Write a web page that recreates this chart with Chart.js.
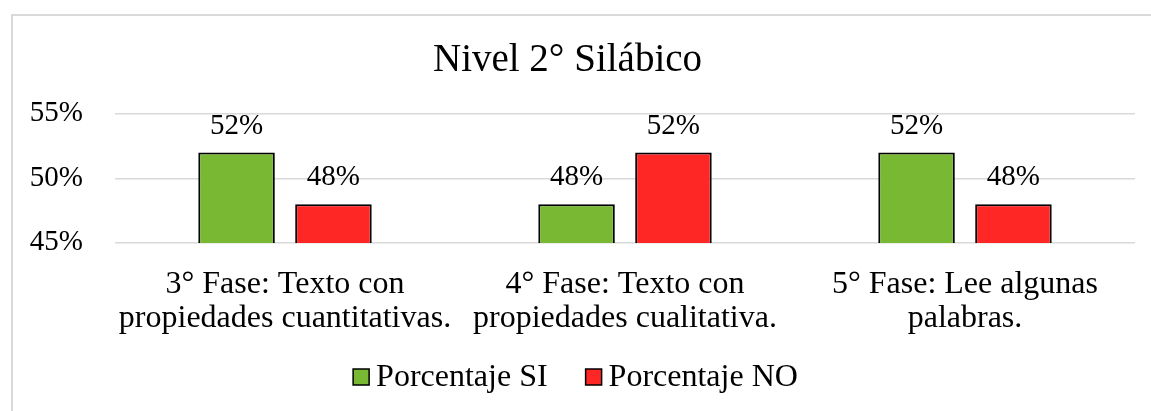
<!DOCTYPE html>
<html>
<head>
<meta charset="utf-8">
<script src="https://cdn.jsdelivr.net/npm/chart.js@4.4.1/dist/chart.umd.min.js"></script>
<style>
  html, body { margin: 0; padding: 0; background: #fff; overflow: hidden; }
  #frame {
    position: absolute; left: 11px; top: 14px;
    width: 1200px; height: 500px;
    border-left: 2px solid #d9d9d9; border-top: 2px solid #d9d9d9;
  }
  #wrap { position: absolute; left: 0; top: 0; width: 1151px; height: 411px; }
</style>
</head>
<body>
<div id="frame"></div>
<div id="wrap"><canvas id="nivelChart"></canvas></div>
<script>
// --- datos del gráfico ---
const categorias = [
  ["3° Fase: Texto con", "propiedades cuantitativas."],
  ["4° Fase: Texto con", "propiedades cualitativa."],
  ["5° Fase: Lee algunas", "palabras."]
];
const porcentajeSI = [52, 48, 52];
const porcentajeNO = [48, 52, 48];
const ticksY = [45, 50, 55];

const FONT = "'Liberation Serif', 'Times New Roman', serif";

// etiquetas de valor encima de cada barra
const etiquetasPlugin = {
  id: 'etiquetas',
  afterDatasetsDraw(chart) {
    const { ctx } = chart;
    ctx.save();
    ctx.font = '29px ' + FONT;
    ctx.fillStyle = '#000';
    ctx.textAlign = 'center';
    ctx.textBaseline = 'alphabetic';
    chart.data.datasets.forEach((ds, di) => {
      chart.getDatasetMeta(di).data.forEach((bar, i) => {
        ctx.fillText(ds.data[i] + '%', bar.x, bar.y - 19);
      });
    });
    ctx.restore();
  }
};

// leyenda propia, abajo y centrada
const leyendaPlugin = {
  id: 'leyenda',
  afterDraw(chart) {
    const { ctx, width } = chart;
    const box = 16, gapTexto = 7, gapItem = 38;
    const yc = 377;
    ctx.save();
    ctx.font = '32px ' + FONT;
    const items = chart.data.datasets.map(ds => ({
      text: ds.label, color: ds.backgroundColor, w: ctx.measureText(ds.label).width
    }));
    let total = 0;
    items.forEach((it, i) => { total += box + gapTexto + it.w + (i ? gapItem : 0); });
    let x = (width - total) / 2;
    items.forEach((it, i) => {
      if (i) x += gapItem;
      ctx.fillStyle = it.color;
      ctx.fillRect(x, yc - box / 2, box, box);
      ctx.lineWidth = 1.5;
      ctx.strokeStyle = '#000';
      ctx.strokeRect(x, yc - box / 2, box, box);
      x += box + gapTexto;
      ctx.fillStyle = '#000';
      ctx.textAlign = 'left';
      ctx.textBaseline = 'middle';
      ctx.fillText(it.text, x, yc + 1);
      x += it.w;
    });
    ctx.restore();
  }
};

new Chart(document.getElementById('nivelChart'), {
  type: 'bar',
  data: {
    labels: categorias,
    datasets: [
      {
        label: 'Porcentaje SI',
        data: porcentajeSI,
        backgroundColor: '#78b833',
        borderColor: '#000',
        borderWidth: 2
      },
      {
        label: 'Porcentaje NO',
        data: porcentajeNO,
        backgroundColor: '#ff2626',
        borderColor: '#000',
        borderWidth: 2
      }
    ]
  },
  options: {
    responsive: true,
    maintainAspectRatio: false,
    animation: false,
    categoryPercentage: 0.57,
    barPercentage: 0.79,
    layout: { padding: { left: 0, right: 16, top: 0, bottom: 59 } },
    plugins: {
      legend: { display: false },
      tooltip: { enabled: false },
      title: {
        display: true,
        text: 'Nivel 2° Silábico',
        color: '#000',
        font: { family: FONT, size: 39, weight: 'normal', lineHeight: 1.2 },
        padding: { top: 37, bottom: 30 }
      }
    },
    scales: {
      x: {
        grid: { display: false },
        border: { display: false },
        ticks: {
          color: '#000',
          padding: 16,
          maxRotation: 0,
          autoSkip: false,
          font: { family: FONT, size: 32, lineHeight: 1.08 }
        }
      },
      y: {
        min: 45,
        max: 55,
        afterFit(scale) { scale.width = 115; },
        afterBuildTicks(scale) { scale.ticks = ticksY.map(v => ({ value: v })); },
        grid: { color: '#d9d9d9', lineWidth: 1.5, drawTicks: false },
        border: { display: false },
        ticks: {
          color: '#000',
          padding: 32,
          font: { family: FONT, size: 29 },
          callback: v => v + '%'
        }
      }
    }
  },
  plugins: [etiquetasPlugin, leyendaPlugin]
});
</script>
</body>
</html>
